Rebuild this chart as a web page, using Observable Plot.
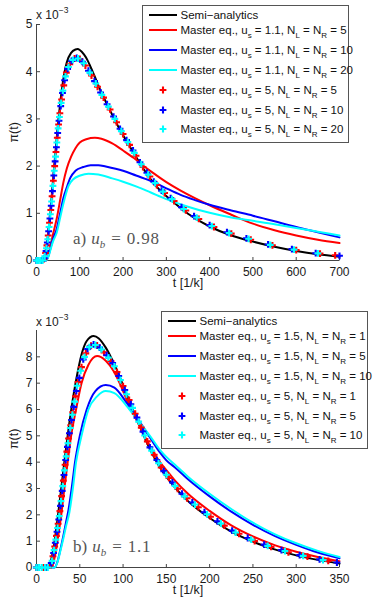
<!DOCTYPE html>
<html><head><meta charset="utf-8">
<script src="https://cdn.jsdelivr.net/npm/d3@7"></script>
<script src="https://cdn.jsdelivr.net/npm/@observablehq/plot@0.6"></script>
<style>
html,body{margin:0;padding:0;background:#fff;}
#fig{position:relative;width:374px;height:606px;overflow:hidden;font-family:"Liberation Sans",Arial,Helvetica,sans-serif;}
.panel{position:absolute;left:0;}
.legend{position:absolute;box-sizing:border-box;width:207px;height:138px;border:1px solid #555;background:#fff;}
.row{position:absolute;left:0;height:14px;display:flex;align-items:center;white-space:nowrap;font-size:11.5px;color:#111;}
.row svg{flex:none;}
.row sub{font-size:8px;vertical-align:-3.5px;line-height:0;}
.expo{position:absolute;font-size:12px;color:#222;white-space:nowrap;line-height:14px;}
.expo sup{font-size:8.5px;vertical-align:6px;line-height:0;}
.tag{position:absolute;font-family:"Liberation Serif","DejaVu Serif",serif;font-size:17px;color:#555;white-space:nowrap;line-height:20px;}
</style></head><body><div id="fig"></div>
<script>
// ---------- Panel a) u_b = 0.98 ----------
const xTicksA = [0,100,200,300,400,500,600,700];
const yTicksA = [0,1,2,3,4,5];
const semiA = [[0,0],[14,0],[18,0.05],[22,0.22],[26,0.5],[30,0.85],[35,1.35],[40,1.9],[45,2.42],[50,2.92],[55,3.35],[60,3.72],[65,4.0],[70,4.2],[80,4.4],[90,4.47],[95,4.48],[100,4.46],[110,4.36],[118,4.24],[125,4.1],[133,3.93],[148,3.6],[171,3.16],[194,2.75],[218,2.38],[241,2.03],[264,1.72],[287,1.47],[306,1.32],[350,0.99],[400,0.72],[450,0.53],[500,0.4],[550,0.29],[600,0.2],[650,0.13],[700,0.08]];
const redA = [[0,0],[22,0],[27,0.1],[32,0.3],[38,0.55],[47,0.9],[55,1.3],[62,1.65],[70,1.95],[80,2.2],[90,2.38],[100,2.5],[115,2.57],[135,2.6],[150,2.58],[175,2.48],[200,2.33],[225,2.17],[244,2.03],[270,1.85],[300,1.66],[333,1.48],[366,1.32],[400,1.17],[450,0.97],[500,0.78],[550,0.64],[600,0.53],[650,0.44],[700,0.37]];
const blueA = [[0,0],[22,0],[27,0.08],[32,0.25],[38,0.45],[47,0.68],[55,1.02],[62,1.32],[70,1.55],[78,1.75],[90,1.9],[108,1.98],[125,2.02],[143,2.02],[160,1.99],[200,1.9],[230,1.8],[271,1.66],[300,1.53],[333,1.39],[366,1.28],[400,1.18],[450,1.06],[500,0.95],[550,0.83],[600,0.71],[650,0.6],[700,0.49]];
const cyanA = [[0,0],[22,0],[27,0.07],[32,0.22],[38,0.4],[47,0.6],[55,0.92],[62,1.2],[74,1.58],[85,1.72],[101,1.8],[120,1.84],[143,1.82],[175,1.74],[200,1.67],[233,1.56],[264,1.44],[300,1.3],[350,1.14],[400,1.01],[450,0.91],[500,0.84],[550,0.77],[600,0.69],[650,0.61],[700,0.53]];
const redMkA = [[0,0],[10,0],[17,0.03],[21,0.16],[24,0.32],[27,0.53],[30,0.8],[33,1.07],[36,1.36],[39,1.69],[42,2.0],[45,2.3],[48,2.6],[51,2.88],[54,3.12],[58,3.41],[63,3.71],[69,3.98],[77,4.16],[88,4.28],[100,4.27],[113,4.13],[127,3.92],[141,3.68],[155,3.45],[170,3.2],[185,2.93],[200,2.68],[215,2.45],[230,2.22],[246,1.98],[262,1.78],[278,1.6],[296,1.43],[318,1.26],[345,1.06],[375,0.88],[410,0.71],[450,0.57],[495,0.44],[545,0.32],[600,0.22],[655,0.145],[690,0.11]];
const blueMkA = [[0,0],[12,0],[18,0.05],[22,0.2],[25,0.38],[28,0.62],[31,0.89],[34,1.16],[37,1.47],[40,1.8],[43,2.1],[46,2.4],[49,2.7],[52,2.96],[56,3.27],[60,3.55],[65,3.82],[72,4.06],[81,4.23],[93,4.29],[106,4.21],[120,4.02],[134,3.8],[148,3.56],[163,3.31],[178,3.05],[193,2.79],[208,2.55],[223,2.33],[239,2.08],[255,1.86],[271,1.67],[289,1.48],[310,1.32],[335,1.13],[364,0.94],[400,0.75],[440,0.6],[485,0.47],[535,0.34],[590,0.24],[645,0.155],[700,0.1]];
const cyanMkA = [[0,0],[4,0],[9,0],[14,0],[19,0.09],[23,0.26],[26,0.45],[29,0.71],[32,0.98],[35,1.25],[38,1.58],[41,1.9],[44,2.2],[47,2.5],[50,2.8],[53,3.04],[57,3.34],[61,3.6],[67,3.9],[74,4.1],[84,4.25],[96,4.28],[109,4.18],[123,3.98],[137,3.75],[151,3.51],[166,3.26],[181,3.0],[196,2.74],[211,2.51],[226,2.28],[242,2.04],[258,1.82],[274,1.64],[292,1.46],[313,1.3],[340,1.09],[370,0.91],[405,0.73],[445,0.58],[490,0.46],[540,0.33],[595,0.23],[650,0.15]];

// ---------- Panel b) u_b = 1.1 ----------
const xTicksB = [0,50,100,150,200,250,300,350];
const yTicksB = [0,1,2,3,4,5,6,7,8];
const semiB = [[0,0],[14,0],[17,0.3],[20,0.8],[23,1.5],[26,2.3],[30,3.4],[34,4.5],[38,5.5],[43,6.6],[48,7.5],[53,8.2],[58,8.6],[66,8.79],[72,8.7],[80,8.35],[89,7.78],[96,7.25],[104,6.58],[116,5.62],[131,4.5],[143,3.78],[150,3.45],[160,3.03],[175,2.52],[200,1.88],[225,1.36],[250,0.98],[275,0.69],[300,0.46],[325,0.29],[350,0.15]];
const redB = [[0,0],[17,0],[20,0.25],[23,0.75],[26,1.4],[29,2.1],[32,2.95],[36,4.0],[40,5.0],[45.7,6.0],[52,7.0],[60,7.7],[70,8.03],[80,7.85],[89,7.46],[96,7.0],[104,6.39],[116,5.57],[131,4.62],[143,3.98],[150,3.7],[160,3.3],[175,2.8],[200,2.15],[225,1.6],[250,1.18],[275,0.85],[300,0.6],[325,0.4],[350,0.24]];
const blueB = [[0,0],[21,0],[24,0.2],[27,0.6],[31,1.2],[34,1.7],[37,2.2],[41,3.1],[44.5,4.0],[50,5.0],[58,6.0],[68,6.7],[80,6.93],[90,6.83],[104,6.26],[116,5.69],[131,4.94],[143,4.35],[150,4.07],[160,3.8],[175,3.35],[200,2.7],[225,2.12],[250,1.62],[275,1.2],[300,0.86],[325,0.57],[350,0.35]];
const cyanB = [[0,0],[21,0],[24,0.18],[27,0.55],[31,1.1],[34,1.55],[38,2.1],[42,3.0],[45.7,4.0],[52,5.0],[60,6.0],[70,6.5],[80,6.7],[90,6.62],[104,6.14],[116,5.63],[131,5.0],[143,4.45],[150,4.2],[160,3.9],[175,3.45],[200,2.8],[225,2.22],[250,1.7],[275,1.27],[300,0.92],[325,0.63],[350,0.4]];
const redMkB = [[0,0],[8,0],[16,0.08],[19,0.43],[21,0.8],[23,1.2],[25,1.66],[27,2.14],[29,2.71],[31,3.3],[33,3.9],[35,4.4],[37,4.9],[39.5,5.4],[42,5.9],[45,6.5],[48,7.04],[52,7.61],[57,8.13],[63,8.42],[70,8.43],[78,8.17],[86,7.84],[93,7.42],[100,6.89],[107,6.36],[114,5.84],[121,5.31],[128,4.79],[136,4.28],[144,3.8],[153,3.4],[163,2.99],[174,2.63],[187,2.29],[201,1.93],[217,1.59],[234,1.28],[252,1.0],[271,0.78],[291,0.58],[313,0.41],[337,0.25]];
const blueMkB = [[0,0],[11,0],[17,0.17],[19.7,0.55],[21.7,0.94],[23.7,1.36],[25.7,1.82],[27.7,2.34],[29.7,2.91],[31.7,3.51],[33.7,4.08],[35.7,4.58],[38,5.1],[40.5,5.6],[43,6.1],[46,6.7],[49.5,7.2],[54,7.9],[59,8.3],[66,8.47],[73,8.35],[81,8.06],[88,7.76],[95,7.27],[102,6.74],[109,6.2],[116,5.69],[123,5.16],[131,4.56],[139,4.08],[147,3.66],[157,3.23],[168,2.8],[180,2.47],[194,2.1],[209,1.75],[226,1.4],[244,1.12],[263,0.87],[283,0.66],[304,0.47],[327,0.31],[347,0.19]];
const cyanMkB = [[0,0],[3,0],[6,0],[10,0],[13,0],[18,0.25],[20.3,0.66],[22.3,1.06],[24.3,1.5],[26.3,1.95],[28.3,2.52],[30.3,3.09],[32.3,3.69],[34.3,4.22],[36.3,4.72],[39,5.3],[41.5,5.8],[44,6.3],[47,6.9],[51,7.47],[55.5,8.0],[61,8.37],[68,8.45],[75,8.28],[83,7.97],[90,7.64],[97,7.12],[104,6.58],[111,6.06],[118,5.54],[125,5.01],[133,4.44],[141,3.96],[150,3.52],[160,3.1],[171,2.7],[183,2.39],[197,2.02],[213,1.67],[230,1.33],[248,1.06],[267,0.82],[287,0.62],[308,0.44],[331,0.28]];

// ---------- text ----------
const yLabel = "π(t)";
const xLabel = "t [1/k]";
const panelTags = ["a)", "b)"];
const ubValues = ["0.98", "1.1"];
const usLinesA = "1.1", usLinesB = "1.5", usMarks = "5";
const nValuesA = ["5", "10", "20"];
const nValuesB = ["1", "5", "10"];
const seriesColors = ["#ff0000", "#0000ff", "#00ffff"];

// ---------- helpers ----------
const plusSym = {draw(ctx){const h=3.4; ctx.moveTo(-h,0); ctx.lineTo(h,0); ctx.moveTo(0,-h); ctx.lineTo(0,h);}};
const tickUp = {draw(ctx){ctx.moveTo(0,0); ctx.lineTo(0,-3.5);}};
const tickRight = {draw(ctx){ctx.moveTo(0,0); ctx.lineTo(3.5,0);}};
const axisCol = "#444";

function panel({xDomain, yDomain, xTicks, yTicks, semi, lines, marks, mT, mB, xlDy}) {
  const lineMarks = [Plot.line(semi, {x: d=>d[0], y: d=>d[1], stroke: "#000", strokeWidth: 2, curve: "monotone-x"})]
    .concat(lines.map((s,i)=>Plot.line(s, {x: d=>d[0], y: d=>d[1], stroke: seriesColors[i], strokeWidth: 2, curve: "monotone-x"})));
  const dotMarks = marks.map((s,i)=>Plot.dot(s, {x: d=>d[0], y: d=>d[1], symbol: plusSym, stroke: seriesColors[i], fill: "none", strokeWidth: 2.1}));
  return Plot.plot({
    width: 374, height: 303,
    marginLeft: 36, marginRight: 35, marginTop: mT, marginBottom: mB,
    style: {fontFamily: '"Liberation Sans", Arial, Helvetica, sans-serif', fontSize: "12px", color: "#1a1a1a", background: "transparent", overflow: "visible"},
    x: {domain: xDomain},
    y: {domain: yDomain},
    marks: [
      Plot.ruleY([yDomain[0]], {stroke: axisCol}),
      Plot.ruleX([xDomain[0]], {stroke: axisCol}),
      Plot.dot(xTicks, {x: d=>d, frameAnchor: "bottom", symbol: tickUp, stroke: axisCol, fill: "none", strokeWidth: 1}),
      Plot.dot(yTicks, {y: d=>d, frameAnchor: "left", symbol: tickRight, stroke: axisCol, fill: "none", strokeWidth: 1}),
      Plot.axisX({ticks: xTicks, tickSize: 0, tickPadding: 7, label: null, tickFormat: d=>String(d)}),
      Plot.axisY({ticks: yTicks, tickSize: 0, tickPadding: 4, label: null, tickFormat: d=>String(d)}),
      ...lineMarks,
      ...dotMarks,
      Plot.text([yLabel], {frameAnchor: "left", dx: -23, rotate: -90, text: d=>d, fontSize: 12.5}),
      Plot.text([xLabel], {frameAnchor: "bottom", dy: xlDy, text: d=>d, fontSize: 12.5})
    ]
  });
}

const fig = document.getElementById("fig");
function place(node, left, top, cls) {
  const d = document.createElement("div");
  d.className = cls; d.style.left = left + "px"; d.style.top = top + "px";
  if (typeof node === "string") d.innerHTML = node; else d.appendChild(node);
  fig.appendChild(d); return d;
}

const pA = panel({xDomain: [0,700], yDomain: [0,5], xTicks: xTicksA, yTicks: yTicksA, semi: semiA,
  lines: [redA, blueA, cyanA], marks: [redMkA, blueMkA, cyanMkA], mT: 24, mB: 43, xlDy: 26.5});
const pB = panel({xDomain: [0,350], yDomain: [0,9], xTicks: xTicksB, yTicks: yTicksB, semi: semiB,
  lines: [redB, blueB, cyanB], marks: [redMkB, blueMkB, cyanMkB], mT: 27, mB: 39, xlDy: 26.3});
place(pA, 0, 0, "panel");
place(pB, 0, 303, "panel");

// exponent labels
place('x 10<sup>−3</sup>', 36, 8, "expo");
place('x 10<sup>−3</sup>', 36, 315, "expo");

// panel tags
function tagHtml(tag, ub) {
  return `${tag}<span style="margin-left:5px;font-style:italic">u</span><span style="font-style:italic;font-size:11px;position:relative;top:4px">b</span><span style="margin:0 6px">=</span><span style="letter-spacing:0.8px">${ub}</span>`;
}
place(tagHtml(panelTags[0], ubValues[0]), 73, 229, "tag");
place(tagHtml(panelTags[1], ubValues[1]), 73, 537, "tag");

// legends
const rowCenters = [9.5, 25, 44.7, 65, 85, 105, 124];
function sample(kind, color) {
  if (kind === "line") return `<svg width="36" height="14"><line x1="6" x2="34" y1="7" y2="7" stroke="${color}" stroke-width="2"/></svg>`;
  return `<svg width="36" height="14"><path d="M16.6,7H23.4M20,3.6V10.4" stroke="${color}" stroke-width="2.1" fill="none"/></svg>`;
}
function legend(left, top, usLines, nVals) {
  const box = place("", left, top, "legend");
  const entries = [{kind: "line", color: "#000", text: "Semi−analytics"}];
  nVals.forEach((n,i)=>entries.push({kind: "line", color: seriesColors[i], text: `Master eq., u<sub>s</sub> = ${usLines}, N<sub>L</sub> = N<sub>R</sub> = ${n}`}));
  nVals.forEach((n,i)=>entries.push({kind: "mark", color: seriesColors[i], text: `Master eq., u<sub>s</sub> = ${usMarks}, N<sub>L</sub> = N<sub>R</sub> = ${n}`}));
  entries.forEach((e,i)=>{
    const r = document.createElement("div");
    r.className = "row"; r.style.top = (rowCenters[i] - 8) + "px";
    r.innerHTML = sample(e.kind, e.color) + `<span style="margin-left:1.5px">${e.text}</span>`;
    box.appendChild(r);
  });
}
legend(142, 5, usLinesA, nValuesA);
legend(161, 311, usLinesB, nValuesB);
</script></body></html>
